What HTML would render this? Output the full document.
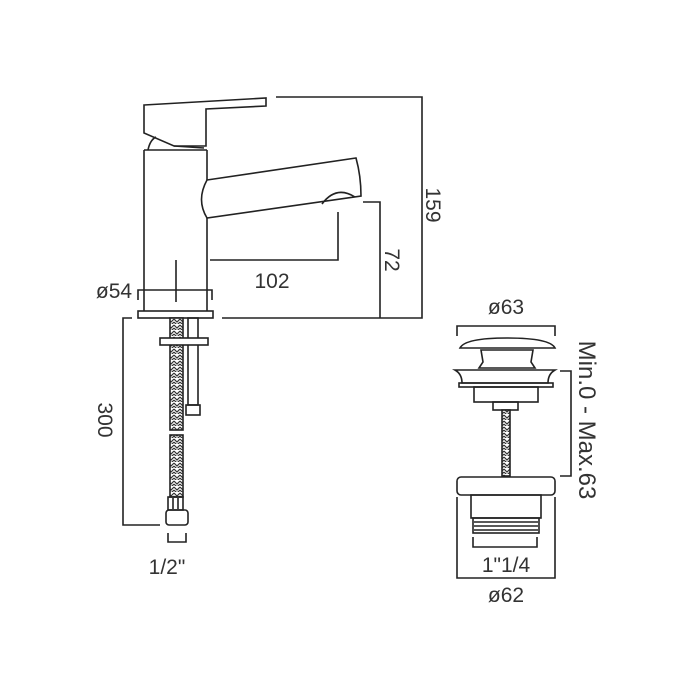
<!DOCTYPE html>
<html><head><style>html,body{margin:0;padding:0;background:#fff;}svg{display:block}</style></head>
<body>
<svg width="700" height="700" viewBox="0 0 700 700" xmlns="http://www.w3.org/2000/svg">
<defs>
<pattern id="br" width="6" height="6" patternUnits="userSpaceOnUse">
<rect width="6" height="6" fill="#fff"/>
<path d="M0,1 L3,4 L6,1 M0,4 L3,7 L6,4" stroke="#333" stroke-width="1.2" fill="none"/>
</pattern>
</defs>
<g fill="none" stroke="#222" stroke-width="1.6">
<path d="M144,105 L266,98 L266,106 L206,109 L206,146 L174,146 L144,133 Z"/>
<path d="M148,150 Q150,140 156,137"/>
<line x1="174" y1="146" x2="204" y2="148"/>
<path d="M144,150 L207,150 M144,150 L144,311 M207,150 L207,180 M207,218 L207,311"/>
<path d="M207,180 L356,158 Q361,176 361,196 L207,218 Q196,200 207,180 Z"/>
<path d="M322,204 Q336,185 355,197"/>
<rect x="138" y="311" width="75" height="7"/>
<path d="M138,300 L138,290 L212,290 L212,300"/>
<path d="M338,212 L338,260 L210,260 M176,260 L176,302"/>
<path d="M363,202 L380,202 L380,318"/>
<path d="M276,97 L422,97 L422,318 L222,318"/>
<path d="M132,318 L123,318 L123,525 L160,525"/>
<rect x="170" y="318" width="13" height="112" fill="url(#br)"/>
<rect x="170" y="435" width="13" height="62" fill="url(#br)"/>
<rect x="188" y="318" width="10" height="87"/>
<rect x="186" y="405" width="14" height="10"/>
<rect x="160" y="338" width="48" height="7" fill="#fff"/>
<rect x="168" y="497" width="15" height="13"/>
<line x1="173" y1="498" x2="173" y2="509"/><line x1="178" y1="498" x2="178" y2="509"/>
<rect x="166" y="510" width="22" height="15" rx="3"/>
<path d="M168,533 L168,542 L186,542 L186,533"/>
<path d="M457,336 L457,326 L555,326 L555,336"/>
<path d="M460,348 Q465,338 507,338 Q550,338 555,348 Z"/>
<path d="M481,350 L533,350 L531,362 L535,368 L479,368 L483,362 Z"/>
<path d="M455,370 L555,370 Q548,374 548,383 L462,383 Q462,374 455,370 Z"/>
<rect x="459" y="383" width="94" height="4"/>
<rect x="474" y="387" width="64" height="15"/>
<rect x="493" y="402" width="25" height="8"/>
<rect x="502" y="410" width="8" height="66" fill="url(#br)"/>
<path d="M560,371 L571,371 L571,476 L560,476"/>
<rect x="457" y="477" width="98" height="18" rx="4"/>
<rect x="471" y="495" width="70" height="23"/>
<rect x="473" y="518" width="66" height="15"/>
<line x1="474" y1="522" x2="538" y2="522"/><line x1="474" y1="526" x2="538" y2="526"/><line x1="474" y1="530" x2="538" y2="530"/>
<path d="M473,537 L473,547 L537,547 L537,537"/>
<path d="M457,497 L457,578 L555,578 L555,497"/>
</g>
<g font-family="Liberation Sans, sans-serif" font-size="21" fill="#333" text-anchor="middle">
<text x="114" y="298">ø54</text>
<text x="272" y="288">102</text>
<text x="167" y="574">1/2"</text>
<text x="506" y="314">ø63</text>
<text x="506" y="572">1"1/4</text>
<text x="506" y="602">ø62</text>
<text transform="translate(385,260) rotate(90)">72</text>
<text transform="translate(426,205) rotate(90)">159</text>
<text transform="translate(98,420) rotate(90)">300</text>
<text font-size="24" transform="translate(579,420) rotate(90)">Min.0 - Max.63</text>
</g>
</svg>
</body></html>
